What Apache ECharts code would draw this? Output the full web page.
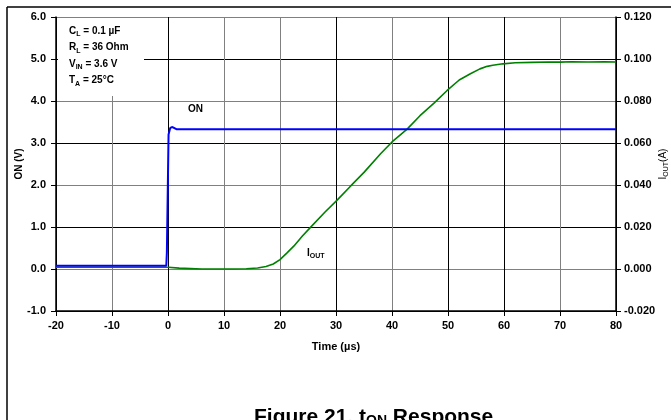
<!DOCTYPE html>
<html><head><meta charset="utf-8">
<script src="https://cdn.jsdelivr.net/npm/echarts@6/dist/echarts.min.js"></script>
<style>html,body{margin:0;padding:0;background:#fff}#c{width:671px;height:420px}</style>
</head><body><div id="c"></div>
<script>
// Time (µs) and ON voltage (V)
const onTime = [-20, -0.3, -0.2, 0.1, 0.4, 0.8, 1.5, 31.5, 31.7, 31.9, 74, 74.2, 74.4, 80];
const onVolt = [0.08, 0.08, 0.4, 3.2, 3.36, 3.38, 3.33, 3.33, 3.36, 3.33, 3.33, 3.36, 3.33, 3.33];
// Time (µs) and output current (A)
const ioutTime = [-20, -10, -2, 0, 2, 4, 6, 8, 10, 12, 14, 16, 17.5, 18.8, 20, 21.3, 22.5, 24, 25.4, 28, 30.2, 32.5, 35, 38, 40, 42.7, 45, 47.5, 49.8, 52, 54, 55.7, 57, 58, 59.8, 62, 65, 68, 70, 72, 75, 78, 80];
const ioutAmp = [0.0008, 0.0008, 0.0008, 0.0008, 0.0004, 0.0002, 0.0, 0.0, 0.0, 0.0, 0.0001, 0.0005, 0.0012, 0.0024, 0.0045, 0.0078, 0.011, 0.0157, 0.0197, 0.027, 0.0328, 0.0392, 0.046, 0.055, 0.0605, 0.0666, 0.073, 0.079, 0.0849, 0.09, 0.093, 0.0953, 0.0965, 0.097, 0.0977, 0.0982, 0.0984, 0.0986, 0.0985, 0.0987, 0.0986, 0.0987, 0.0986];
// Axis ticks
const xTicks = {min: -20, max: 80, interval: 10};
const leftTicks = {min: -1, max: 6, interval: 1};
const rightTicks = {min: -0.02, max: 0.12, interval: 0.02};
const notes = ['C{s|L} = 0.1 µF', 'R{s|L} = 36 Ohm', 'V{s|IN} = 3.6 V', 'T{s|A} = 25°C'];

const F = 'Liberation Sans, Arial, sans-serif';
const sub = (size, drop) => ({s: {fontSize: size, fontWeight: 'bold', fontFamily: F, color: '#000', verticalAlign: 'bottom', padding: [0, 0, -drop, 0]}});
const chart = echarts.init(document.getElementById('c'), null, {renderer: 'canvas'});
const noteGraphics = notes.map((t, i) => ({
  type: 'text', left: 69, top: 26 + i * 16.5, z: 101,
  style: {text: t, fontFamily: F, fontWeight: 'bold', fontSize: 10, fill: '#000', rich: sub(7, 2)}
}));
chart.setOption({
  animation: false,
  backgroundColor: '#fff',
  grid: {left: 56, right: 55, top: 17, bottom: 109, show: false, containLabel: false, outerBoundsMode: 'none'},
  xAxis: {
    type: 'value', min: xTicks.min, max: xTicks.max, interval: xTicks.interval,
    name: 'Time (µs)', nameLocation: 'middle', nameGap: 30,
    nameTextStyle: {fontFamily: F, fontWeight: 'bold', fontSize: 11, color: '#000'},
    axisLine: {onZero: false, lineStyle: {color: '#000', width: 1.5}},
    axisTick: {length: 5, lineStyle: {color: '#000'}},
    axisLabel: {fontFamily: F, fontWeight: 'bold', fontSize: 11, color: '#000', margin: 9},
    splitLine: {show: true, lineStyle: {color: ['#000', '#808080', '#000', '#808080', '#808080', '#000', '#808080', '#000', '#000', '#808080', '#000'], width: 1}}
  },
  yAxis: [{
    type: 'value', min: leftTicks.min, max: leftTicks.max, interval: leftTicks.interval,
    name: 'ON (V)', nameLocation: 'middle', nameGap: 32, nameMoveOverlap: false,
    nameTextStyle: {fontFamily: F, fontWeight: 'bold', fontSize: 10, color: '#000'},
    axisLine: {show: true, onZero: false, lineStyle: {color: '#000', width: 1.5}},
    axisTick: {show: true, length: 5, lineStyle: {color: '#000'}},
    axisLabel: {fontFamily: F, fontWeight: 'bold', fontSize: 11, color: '#000', margin: 10, formatter: v => v.toFixed(1)},
    splitLine: {show: true, lineStyle: {color: ['#000', '#808080'], width: 1}}
  }, {
    type: 'value', position: 'right', min: rightTicks.min, max: rightTicks.max, interval: rightTicks.interval,
    name: 'I{s|OUT}(A)', nameLocation: 'middle', nameGap: 42, nameMoveOverlap: false,
    nameTextStyle: {fontFamily: F, fontSize: 10, color: '#000', rich: {s: {fontSize: 7, fontFamily: F, color: '#000', verticalAlign: 'bottom', padding: [0, 0, -2, 0]}}},
    axisLine: {show: true, onZero: false, lineStyle: {color: '#000', width: 1.5}},
    axisTick: {show: true, length: 5, lineStyle: {color: '#000'}},
    axisLabel: {fontFamily: F, fontWeight: 'bold', fontSize: 11, color: '#000', margin: 8, formatter: v => v.toFixed(3)},
    splitLine: {show: false}
  }],
  series: [{
    name: 'ON', type: 'line', yAxisIndex: 0, showSymbol: false, symbol: 'none',
    data: onTime.map((t, i) => [t, onVolt[i]]),
    lineStyle: {color: '#0000ff', width: 2}, z: 3
  }, {
    name: 'IOUT', type: 'line', yAxisIndex: 1, showSymbol: false, symbol: 'none',
    data: ioutTime.map((t, i) => [t, ioutAmp[i]]),
    lineStyle: {color: '#008000', width: 1.6}, z: 2
  }],
  graphic: [
    {type: 'line', shape: {x1: 7, y1: 7, x2: 671, y2: 7}, style: {stroke: '#000', lineWidth: 1.5}},
    {type: 'line', shape: {x1: 7, y1: 7, x2: 7, y2: 420}, style: {stroke: '#000', lineWidth: 1.5}},
    {type: 'rect', shape: {x: 58, y: 18, width: 86, height: 78}, style: {fill: '#fff'}, z: 100}
  ].concat(noteGraphics, [
    {type: 'text', left: 188, top: 104, z: 101, style: {text: 'ON', fontFamily: F, fontWeight: 'bold', fontSize: 10, fill: '#000'}},
    {type: 'text', left: 307, top: 248, z: 101, style: {text: 'I{s|OUT}', fontFamily: F, fontWeight: 'bold', fontSize: 10, fill: '#000', rich: sub(7, 2)}},
    {type: 'text', left: 254, top: 407, z: 101, style: {text: 'Figure 21. t{s|ON} Response', fontFamily: F, fontWeight: 'bold', fontSize: 21, fill: '#000', rich: sub(14, 0)}}
  ])
});
</script></body></html>
